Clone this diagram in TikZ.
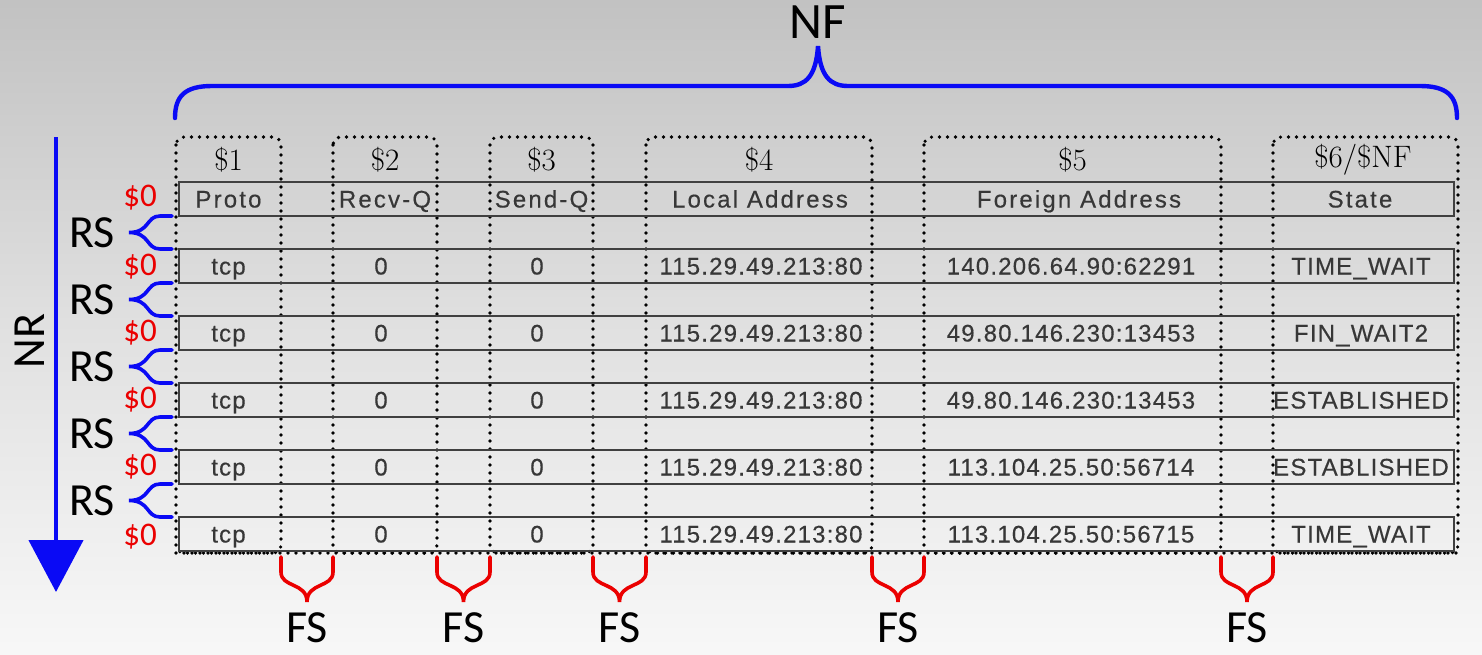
\documentclass[tikz,border=0pt]{standalone}
\usepackage{fontspec}
\usetikzlibrary{arrows.meta}
\newfontfamily\rowfont[LetterSpace=5,FakeBold=0.4]{Liberation Sans}
\newfontfamily\headfont[LetterSpace=9,FakeBold=0.4]{Liberation Sans}
\newfontfamily\calfont{Carlito}
\definecolor{txtgray}{RGB}{55,55,55}
\definecolor{myred}{RGB}{235,0,0}
\definecolor{myblue}{RGB}{10,10,245}
\tikzset{
  colbox/.style={draw=black, line width=3.6pt, dash pattern=on 0pt off 8pt, line cap=round, rounded corners=8pt},
  rowbox/.style={draw=black!75, line width=1.8pt},
  celltxt/.style={font=\rowfont\fontsize{24}{24}\selectfont, text=txtgray, inner sep=0pt, text height=17pt, text depth=0pt},
  headtxt/.style={font=\headfont\fontsize{24}{24}\selectfont, text=txtgray, inner sep=0pt, text height=17pt, text depth=0pt},
  hdrtxt/.style={font=\fontsize{31}{31}\selectfont, text=black, inner sep=0pt},
  zerotxt/.style={font=\calfont\fontsize{33}{33}\selectfont, text=myred, inner sep=0pt},
  bigtxt/.style={font=\calfont\fontsize{46}{46}\selectfont, text=black, inner sep=0pt},
  bluebrace/.style={draw=myblue, line width=3.6pt, line cap=round},
  blueNF/.style={draw=myblue, line width=4.4pt, line cap=round},
  redbrace/.style={draw=myred, line width=3.6pt, line cap=round},
}
\begin{document}
\begin{tikzpicture}[x=1pt,y=-1pt]
\useasboundingbox (0,0) rectangle (1482,654);
\shade[top color=black!24, bottom color=black!3, middle color=black!12] (0,0) rectangle (1482,654);

% NF brace and label
\node[font=\calfont\fontsize{51}{51}\selectfont, inner sep=0pt] (NF) at (818,22) {NF};
\draw[blueNF] (175,118) .. controls (175,96) and (185,86) .. (212,86) -- (788,86)
  .. controls (806,86) and (816,76) .. (818,46)
  .. controls (820,76) and (830,86) .. (848,86) -- (1420,86)
  .. controls (1447,86) and (1457,96) .. (1457,118);

% NR arrow
\coordinate (nrtop) at (56,137);
\coordinate (nrend) at (56,592);
\draw[myblue, line width=4.6pt, -{Triangle[width=54pt,length=52pt]}] (nrtop) -- (nrend);
\node[bigtxt, rotate=90] (NR) at (30,341) {NR};

% column dotted boxes
\foreach \xa/\xb in {176/281, 333/437, 490/593, 646/872, 924/1221, 1273/1458}
  \draw[colbox] (\xa,137) rectangle (\xb,553);
\draw[colbox, rounded corners=0pt] (176,553) -- (1458,553);

% headers
\foreach \x/\t [count=\i] in {228.5/{\$1}, 385/{\$2}, 541.5/{\$3}, 759/{\$4}, 1072.5/{\$5}, 1363/{\$6/\$NF}}
  \node[hdrtxt] (h\i) at (\x,160) {\t};

% row boxes
\foreach \ya in {182,249,316,383,450,517}
  \draw[rowbox] (179,\ya) rectangle (1454,\ya+34);

% header row
\foreach \x/\t [count=\i] in {228.5/Proto, 385/Recv-Q, 541.5/Send-Q, 760/Local Address, 1079/Foreign Address, 1360/State}
  \node[headtxt] (r0c\i) at (\x,199) {\t};

% cells
\foreach \y/\a/\b/\c/\d/\e/\f [count=\r] in {
  266/tcp/0/0/115.29.49.213:80/140.206.64.90:62291/TIME\_WAIT,
  333/tcp/0/0/115.29.49.213:80/49.80.146.230:13453/FIN\_WAIT2,
  400/tcp/0/0/115.29.49.213:80/49.80.146.230:13453/ESTABLISHED,
  467/tcp/0/0/115.29.49.213:80/113.104.25.50:56714/ESTABLISHED,
  534/tcp/0/0/115.29.49.213:80/113.104.25.50:56715/TIME\_WAIT}
{
  \node[celltxt] (r\r c1) at (228.5,\y) {\a};
  \node[celltxt] (r\r c2) at (381,\y) {\b};
  \node[celltxt] (r\r c3) at (537,\y) {\c};
  \node[celltxt] (r\r c4) at (761,\y) {\d};
  \node[celltxt] (r\r c5) at (1071,\y) {\e};
  \node[celltxt] (r\r c6) at (1361,\y) {\f};
}

% $0 labels
\foreach \y [count=\i] in {198,267,333,400,467,537}
  \node[zerotxt] (z\i) at (140,\y) {\$0};

% RS braces and labels
\foreach \ya [count=\i] in {216,283,350,417,484}
{
  \pgfmathsetmacro{\yb}{\ya+33}
  \pgfmathsetmacro{\yc}{\ya+16.5}
  \draw[bluebrace] (172,\ya) -- (160,\ya) .. controls (146,\ya) and (150,\yc) .. (129,\yc)
     .. controls (150,\yc) and (146,\yb) .. (160,\yb) -- (172,\yb);
  \node[bigtxt] (rs\i) at (92,\yc) {RS};
}

% FS braces and labels
\foreach \xa/\xb [count=\i] in {281/333, 437/490, 593/646, 872/924, 1221/1273}
{
  \pgfmathsetmacro{\xc}{(\xa+\xb)/2}
  \draw[redbrace] (\xa,557) -- (\xa,572) .. controls (\xa,588) and (\xc,582) .. (\xc,602)
     .. controls (\xc,582) and (\xb,588) .. (\xb,572) -- (\xb,557);
  \node[bigtxt] (fs\i) at (\xc,628) {FS};
}
\end{tikzpicture}
\end{document}
